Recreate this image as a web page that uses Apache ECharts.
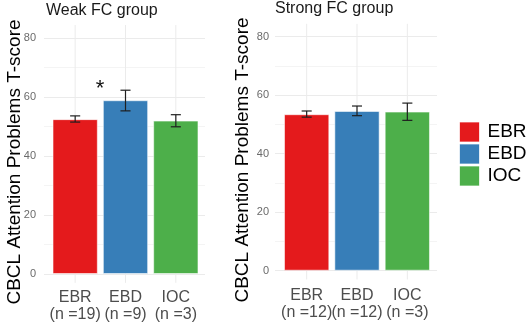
<!DOCTYPE html>
<html>
<head>
<meta charset="utf-8">
<script src="https://cdn.jsdelivr.net/npm/echarts@6/dist/echarts.min.js"></script>
<style>
html,body{margin:0;padding:0;background:#fff;}
#chart{width:529px;height:327px;}
</style>
</head>
<body>
<div id="chart"></div>
<script>
const categories = ['EBR', 'EBD', 'IOC'];
const weakN = ['(n =19)', '(n =9)', '(n =3)'];
const strongN = ['(n =12)', '(n =12)', '(n =3)'];
const weakMean = [52.5, 58.9, 52.0];
const weakLow = [51.5, 55.3, 49.9];
const weakHigh = [53.6, 62.3, 54.0];
const strongMean = [53.5, 54.6, 54.4];
const strongLow = [52.5, 53.0, 51.4];
const strongHigh = [54.6, 56.3, 57.3];
const panelTitles = ['Weak FC group', 'Strong FC group'];
const yTitle = 'CBCL Attention Problems T-score';
const starCategory = 1;
const starValue = 64.7;
const yMin = 0, yMax = 80, yStep = 20;
const panelExtent = [-3, 84.4];

const colors = ['#E41A1C', '#377EB8', '#4DAF4A'];
const FONT = '"Liberation Sans", Arial, sans-serif';

const chart = echarts.init(document.getElementById('chart'));

function valueAxis(gridIndex, visible, margin) {
  return {
    type: 'value', gridIndex: gridIndex, min: yMin, max: yMax, interval: yStep,
    show: true,
    axisLine: {show: false}, axisTick: {show: false},
    axisLabel: {show: visible, color: '#6b6b6b', fontSize: 11, fontFamily: FONT, margin: margin},
    splitLine: {show: visible, lineStyle: {color: '#ebebeb', width: 1}},
    minorTick: {show: false, splitNumber: 2},
    minorSplitLine: {show: visible, lineStyle: {color: '#f4f4f4', width: 1}}
  };
}
function catAxis(gridIndex, visible, nLabels, margin) {
  return {
    type: 'category', gridIndex: gridIndex, data: categories,
    show: visible,
    axisLine: {show: false}, axisTick: {show: false}, splitLine: {show: false},
    axisLabel: {
      show: visible, color: '#4d4d4d', fontSize: 16, fontFamily: FONT, margin: margin,
      lineHeight: 17, interval: 0,
      formatter: function (v, i) { return v + '\n' + nLabels[i]; }
    }
  };
}

function barSeries(axisIdx, means, stack) {
  return categories.map(function (c, i) {
    return {
      name: c, type: 'bar', xAxisIndex: axisIdx, yAxisIndex: axisIdx, stack: stack,
      barWidth: '90%', z: 2,
      itemStyle: {color: colors[i], borderColor: 'rgba(255,255,255,0.55)', borderWidth: 1},
      data: means.map(function (m, j) { return j === i ? m : '-'; })
    };
  });
}
function errorSeries(axisIdx, low, high) {
  return {
    type: 'custom', xAxisIndex: axisIdx, yAxisIndex: axisIdx, z: 5, silent: true, clip: false,
    encode: {x: 0, y: [1, 2]},
    data: low.map(function (l, i) { return [i, l, high[i]]; }),
    renderItem: function (params, api) {
      const x = api.value(0);
      const pl = api.coord([x, api.value(1)]);
      const ph = api.coord([x, api.value(2)]);
      const hw = api.size([1, 0])[0] * 0.1;
      const st = {stroke: '#1f1f1f', lineWidth: 1.2};
      return {type: 'group', children: [
        {type: 'line', shape: {x1: pl[0], y1: pl[1], x2: ph[0], y2: ph[1]}, style: st},
        {type: 'line', shape: {x1: pl[0] - hw, y1: pl[1], x2: pl[0] + hw, y2: pl[1]}, style: st},
        {type: 'line', shape: {x1: ph[0] - hw, y1: ph[1], x2: ph[0] + hw, y2: ph[1]}, style: st}
      ]};
    }
  };
}
function vGridSeries(axisIdx) {
  return {
    type: 'custom', xAxisIndex: axisIdx, yAxisIndex: axisIdx, z: 1, silent: true, clip: false,
    data: categories.map(function (c, i) { return [i]; }),
    renderItem: function (params, api) {
      const x = api.value(0);
      const a = api.coord([x, panelExtent[1]]);
      const b = api.coord([x, panelExtent[0]]);
      return {type: 'line', shape: {x1: a[0], y1: a[1], x2: b[0], y2: b[1]},
        style: {stroke: '#ebebeb', lineWidth: 1}};
    }
  };
}

const weakBars = barSeries(1, weakMean, 'weak');
weakBars[starCategory].markPoint = {
  symbol: 'circle', symbolSize: 0, silent: true,
  data: [{coord: [starCategory, starValue]}],
  label: {show: true, formatter: '*', color: '#111', fontSize: 22, fontFamily: FONT,
    offset: [-25.5, 6]}
};

const option = {
  animation: false,
  backgroundColor: '#fff',
  textStyle: {fontFamily: FONT},
  title: [
    {text: panelTitles[0], left: 46, top: 3, padding: 0,
      textStyle: {fontSize: 16, fontWeight: 'normal', color: '#1a1a1a', fontFamily: FONT}},
    {text: panelTitles[1], left: 275, top: 1, padding: 0,
      textStyle: {fontSize: 16, fontWeight: 'normal', color: '#1a1a1a', fontFamily: FONT}}
  ],
  graphic: [
    {type: 'text', x: 15, y: 162, rotation: Math.PI / 2,
      style: {text: yTitle, fontSize: 19, fontFamily: FONT, fill: '#000',
        textAlign: 'center', textVerticalAlign: 'middle'}},
    {type: 'text', x: 243, y: 160, rotation: Math.PI / 2,
      style: {text: yTitle, fontSize: 19, fontFamily: FONT, fill: '#000',
        textAlign: 'center', textVerticalAlign: 'middle'}}
  ],
  legend: {
    orient: 'vertical', left: 459, top: 121.5, itemWidth: 20, itemHeight: 20, itemGap: 1,
    icon: 'rect', data: categories, selectedMode: false, padding: 0,
    itemStyle: {borderColor: 'rgba(255,255,255,0.7)', borderWidth: 1},
    textStyle: {fontSize: 19, color: '#000', fontFamily: FONT, padding: [0, 0, 0, 3]}
  },
  grid: [
    {left: 44, top: 38, width: 161, height: 236},
    {left: 50, top: 38, width: 151, height: 236},
    {left: 275, top: 36.7, width: 162, height: 234},
    {left: 281.5, top: 36.7, width: 151, height: 234}
  ],
  xAxis: [
    catAxis(0, false, weakN, 15),
    catAxis(1, true, weakN, 15),
    catAxis(2, false, strongN, 16),
    catAxis(3, true, strongN, 16)
  ],
  yAxis: [
    valueAxis(0, true, 8),
    valueAxis(1, false, 8),
    valueAxis(2, true, 6),
    valueAxis(3, false, 6)
  ],
  series: [].concat(
    [vGridSeries(1), vGridSeries(3)],
    weakBars,
    barSeries(3, strongMean, 'strong'),
    [errorSeries(1, weakLow, weakHigh), errorSeries(3, strongLow, strongHigh)]
  )
};
chart.setOption(option);
</script>
</body>
</html>
